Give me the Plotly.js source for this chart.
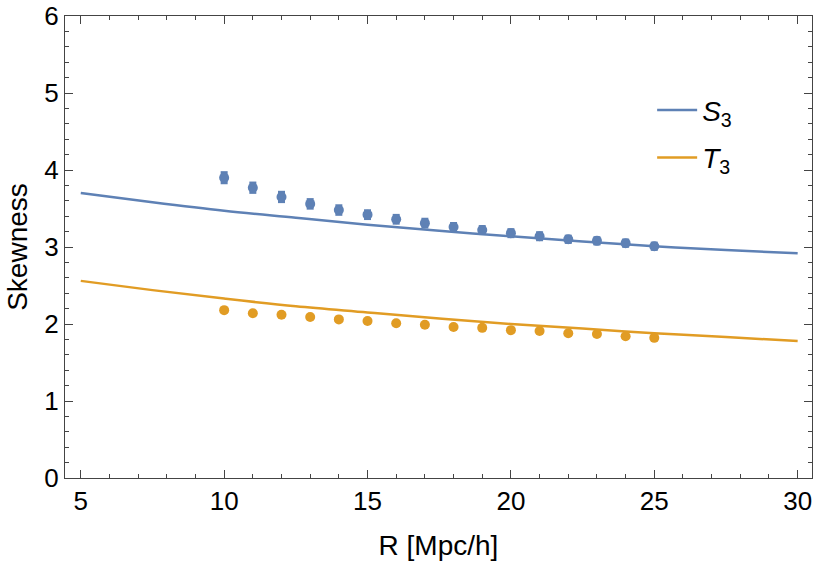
<!DOCTYPE html>
<html>
<head>
<meta charset="utf-8">
<script src="https://cdn.plot.ly/plotly-3.0.1.min.js"></script>
<style>
  html, body { margin: 0; padding: 0; background: #fff; }
  #chart { width: 814px; height: 561px; }
</style>
</head>
<body>
<div id="chart"></div>
<script>
// theory curves
const curveR = [5, 7.5, 10, 12.5, 15, 17.5, 20, 22.5, 25, 27.5, 30];
const s3Curve = [3.70, 3.58, 3.47, 3.38, 3.29, 3.21, 3.14, 3.07, 3.01, 2.96, 2.92];
const t3Curve = [2.56, 2.44, 2.33, 2.23, 2.15, 2.07, 2.00, 1.94, 1.88, 1.83, 1.78];

// measured points
const pointR = [10, 11, 12, 13, 14, 15, 16, 17, 18, 19, 20, 21, 22, 23, 24, 25];
const s3Points = [3.90, 3.77, 3.65, 3.56, 3.48, 3.42, 3.36, 3.31, 3.26, 3.22, 3.18, 3.14, 3.10, 3.08, 3.05, 3.01];
const s3Errors = [0.085, 0.08, 0.08, 0.075, 0.075, 0.07, 0.07, 0.07, 0.065, 0.065, 0.065, 0.065, 0.06, 0.06, 0.06, 0.06];
const t3Points = [2.18, 2.14, 2.12, 2.09, 2.06, 2.04, 2.01, 1.99, 1.96, 1.95, 1.92, 1.91, 1.88, 1.87, 1.84, 1.82];

const BLUE = "#5e81b5";
const ORANGE = "#e19c24";
const FRAME = "#444";
const FONT = "Liberation Sans, Arial, sans-serif";

const traces = [
  {
    type: "scatter",
    mode: "lines",
    name: "<i>S</i><sub>3</sub>",
    x: curveR,
    y: s3Curve,
    line: { color: BLUE, width: 2.5, shape: "spline" },
    legendgroup: "s3"
  },
  {
    type: "scatter",
    mode: "lines",
    name: "<i>T</i><sub>3</sub>",
    x: curveR,
    y: t3Curve,
    line: { color: ORANGE, width: 2.5, shape: "spline" },
    legendgroup: "t3"
  },
  {
    type: "scatter",
    mode: "markers",
    x: pointR,
    y: s3Points,
    showlegend: false,
    marker: { color: BLUE, size: 10 },
    error_y: { type: "data", array: s3Errors, color: BLUE, thickness: 7, width: 0 }
  },
  {
    type: "scatter",
    mode: "markers",
    x: pointR,
    y: t3Points,
    showlegend: false,
    marker: { color: ORANGE, size: 10 }
  }
];

const axisBase = {
  showline: true,
  linecolor: FRAME,
  linewidth: 1,
  mirror: "ticks",
  ticks: "inside",
  ticklen: 8,
  tickwidth: 1,
  tickcolor: FRAME,
  showgrid: false,
  zeroline: false,
  tickfont: { family: FONT, size: 26, color: "#000" }
};

const layout = {
  width: 814,
  height: 561,
  paper_bgcolor: "#fff",
  plot_bgcolor: "#fff",
  margin: { l: 65, r: 2, t: 16, b: 83 },
  showlegend: true,
  legend: {
    x: 0.786,
    y: 0.85,
    xanchor: "left",
    yanchor: "top",
    bgcolor: "rgba(0,0,0,0)",
    itemwidth: 40,
    tracegroupgap: 8,
    font: { family: FONT, size: 28, color: "#000" }
  },
  xaxis: Object.assign({}, axisBase, {
    range: [4.45, 30.5],
    tickvals: [5, 10, 15, 20, 25, 30],
    minor: { dtick: 1, tick0: 0, ticks: "inside", ticklen: 4, tickcolor: FRAME },
    title: { text: "R [Mpc/h]", font: { family: FONT, size: 28, color: "#000" }, standoff: 20 }
  }),
  yaxis: Object.assign({}, axisBase, {
    range: [0, 6],
    tickvals: [0, 1, 2, 3, 4, 5, 6],
    minor: { dtick: 0.2, tick0: 0, ticks: "inside", ticklen: 4, tickcolor: FRAME },
    title: { text: "Skewness", font: { family: FONT, size: 28, color: "#000" }, standoff: 8 }
  })
};

Plotly.newPlot("chart", traces, layout, { displayModeBar: false, staticPlot: true });
</script>
</body>
</html>
